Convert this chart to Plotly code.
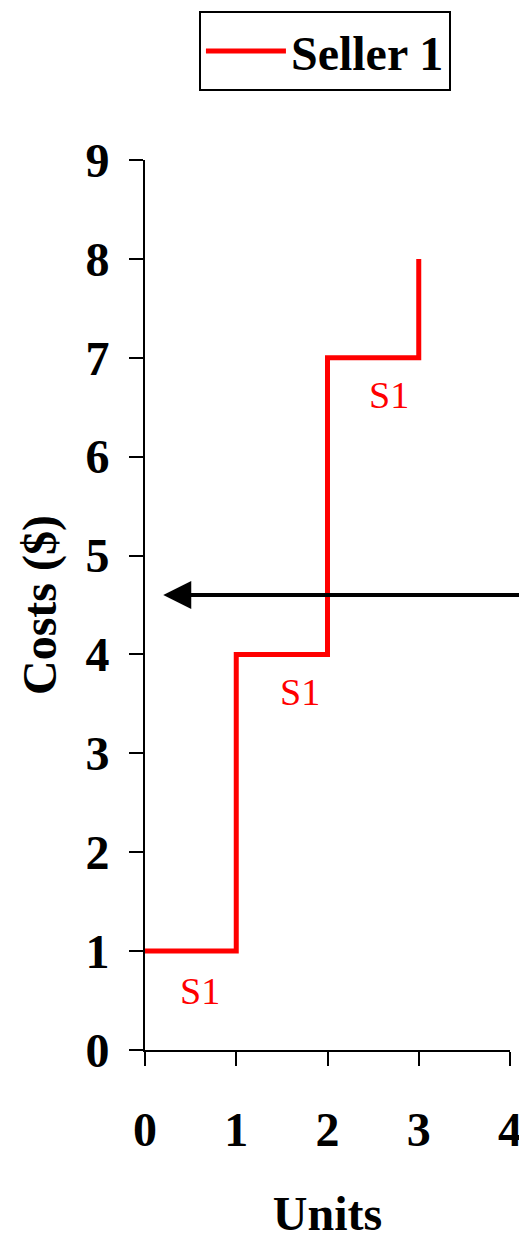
import plotly.graph_objects as go

units = [0, 1, 2, 3]
costs = [1, 4, 7, 8]
label_x = [0.6, 1.7, 2.67]
label_y = [0.6, 3.62, 6.62]
label_text = ["S1", "S1", "S1"]
arrow_price = 4.6
x_ticks = [0, 1, 2, 3, 4]
y_ticks = [0, 1, 2, 3, 4, 5, 6, 7, 8, 9]

FONT = "Liberation Serif, Times New Roman, serif"

fig = go.Figure()
fig.add_trace(go.Scatter(
    x=units, y=costs, mode="lines", line_shape="hv",
    line=dict(color="#ff0000", width=5), name="Seller 1",
))

for xx, yy, tt in zip(label_x, label_y, label_text):
    fig.add_annotation(x=xx, y=yy, text=tt, showarrow=False,
                       font=dict(family=FONT, size=38, color="#ff0000",
                                 weight="normal"))

fig.add_annotation(x=0.2, y=arrow_price, ax=4.3, ay=arrow_price,
                   axref="x", ayref="y", xref="x", yref="y",
                   showarrow=True, arrowhead=2, arrowsize=1.4,
                   arrowwidth=4, arrowcolor="black", text="")

fig.update_layout(
    width=519, height=1235,
    margin=dict(l=137, r=17, t=152, b=193, autoexpand=False),
    plot_bgcolor="white", paper_bgcolor="white",
    font=dict(family=FONT, size=48, color="black", weight="bold"),
    showlegend=True,
    legend=dict(x=0.493, y=1.167, xanchor="center", yanchor="top",
                bordercolor="black", borderwidth=2, itemwidth=80,
                font=dict(family=FONT, size=48, weight="bold")),
    xaxis=dict(range=[0, 4], tickvals=x_ticks, ticks="outside", ticklen=14,
               tickwidth=2, tickcolor="black", showline=True, linecolor="black",
               linewidth=2, showgrid=False, zeroline=False,
               ticklabelstandoff=22,
               title=dict(text="Units", standoff=42,
                          font=dict(family=FONT, size=48, weight="bold"))),
    yaxis=dict(range=[0, 9], tickvals=y_ticks, ticks="outside", ticklen=14,
               tickwidth=2, tickcolor="black", showline=True, linecolor="black",
               linewidth=2, showgrid=False, zeroline=False,
               ticklabelstandoff=10,
               title=dict(text="Costs ($)", standoff=14,
                          font=dict(family=FONT, size=48, weight="bold"))),
)

fig.write_html("out.html")
